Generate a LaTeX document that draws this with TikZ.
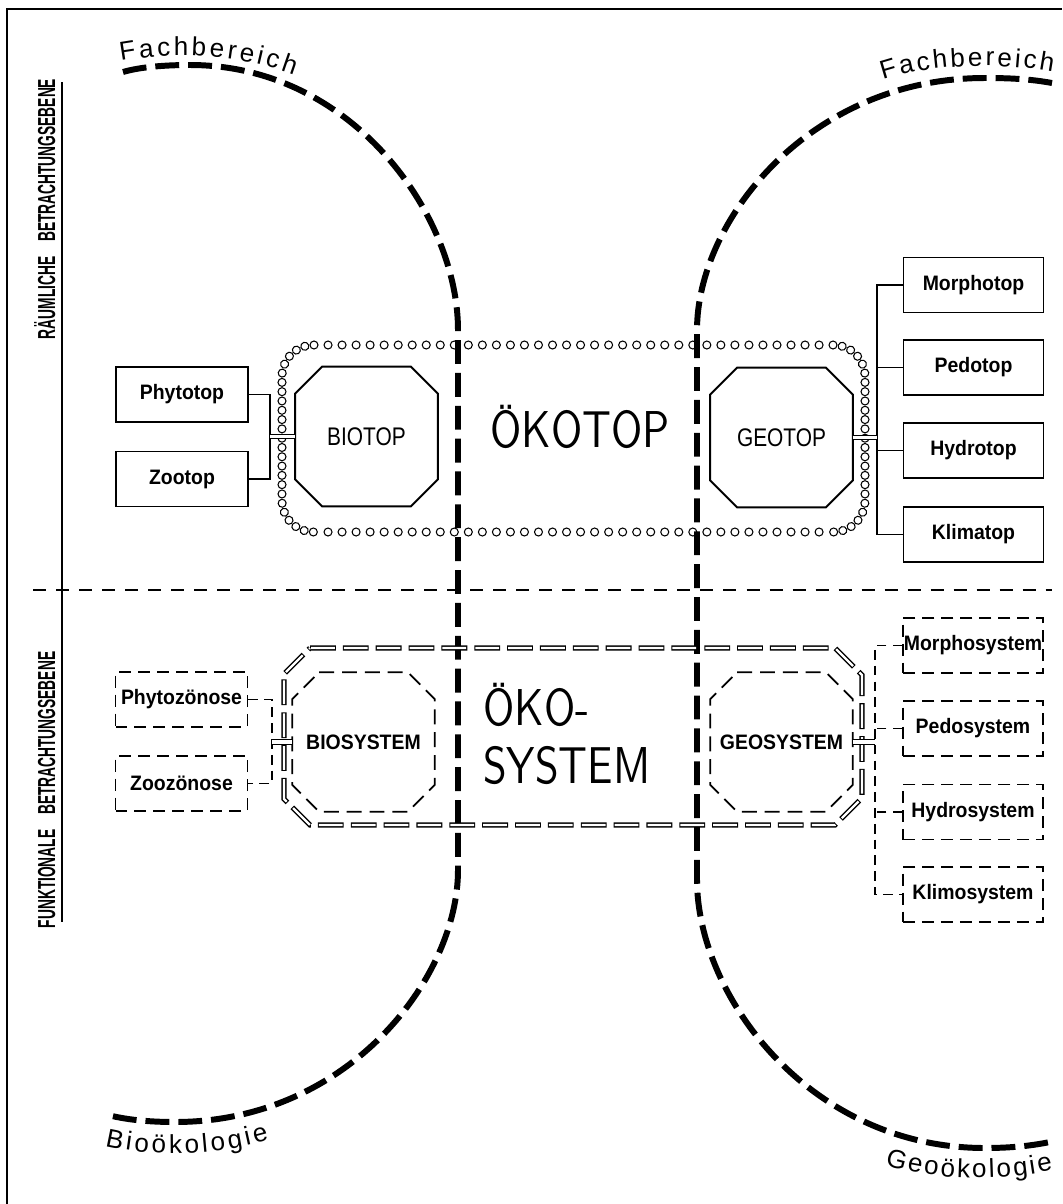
\documentclass[tikz,border=0pt]{standalone}
\usepackage{fontspec}
\setmainfont{Liberation Sans}
\newfontfamily\labfont{Liberation Sans}[FakeStretch=0.93]
\newfontfamily\octfont{Liberation Sans}[FakeStretch=0.82]
\newfontfamily\sidefont{Liberation Sans}[FakeStretch=0.56]
\newfontfamily\okofont{lmsans10-regular.otf}[FakeStretch=0.82]
\usetikzlibrary{decorations.text,decorations.markings}

\newcommand\octo[3][]{\draw[#1] ([xshift=#3]#2.north west) -- ([xshift=-#3]#2.north east) -- ([yshift=-#3]#2.north east) -- ([yshift=#3]#2.south east) -- ([xshift=-#3]#2.south east) -- ([xshift=#3]#2.south west) -- ([yshift=#3]#2.south west) -- ([yshift=-#3]#2.north west) -- cycle;}

\begin{document}
\begin{tikzpicture}[x=0.02cm,y=-0.02cm,
  heavy/.style={line width=3.4pt, dash pattern=on 13.6pt off 5.1pt},
  thinline/.style={line width=0.8pt},
  thindash/.style={line width=0.8pt, dash pattern=on 5.5pt off 3.5pt},
  sepline/.style={line width=0.7pt, dash pattern=on 7.4pt off 5.7pt},
  solidbox/.style={draw, line width=0.9pt, inner sep=0pt, font=\labfont\bfseries\fontsize{11.9}{14}\selectfont},
  lbox/.style={solidbox, minimum width=2.64cm, minimum height=1.1cm},
  rbox/.style={solidbox, minimum width=2.8cm, minimum height=1.1cm},
  boxdash/.style={dash pattern=on 6.8pt off 4pt},
  octnode/.style={inner sep=0pt, minimum width=2.84cm, minimum height=2.78cm},
  octtext/.style={font=\octfont\fontsize{14.5}{17}\selectfont},
  systext/.style={font=\labfont\bfseries\fontsize{11.9}{14}\selectfont},
  dbl/.style={double, double distance=2pt, line width=0.6pt},
  dotc/.style={line width=0.6pt},
  hollow/.style={line width=3pt, dash pattern=on 14.7pt off 4pt,
    postaction={draw=white, line width=1.3pt, dash pattern=on 13.5pt off 5.2pt, dash phase=18.1pt}},
  sidelabel/.style={rotate=90, anchor=base, font=\sidefont\bfseries\fontsize{14}{16}\selectfont},
  bigtext/.style={font=\okofont\fontsize{29.5}{32}\selectfont, inner sep=0pt},
  curvetext/.style={decorate, decoration={text along path, text={|\fontsize{14.8}{18}\selectfont|#1}, text align={fit to path}}}
]
\useasboundingbox (0,0) rectangle (1062,1204);

% frame
\draw[line width=0.8pt] (7,1204) -- (7,9) -- (1062,9);

% left rule and labels
\draw[line width=0.8pt] (62,82) -- (62,922);
\node[sidelabel] (raum) at (55,209) {RÄUMLICHE\hskip0.6em BETRACHTUNGSEBENE};
\node[sidelabel] (funk) at (55,790) {FUNKTIONALE\hskip0.6em BETRACHTUNGSEBENE};

% separation line
\draw[sepline] (33,590) -- (1052,590);

% heavy subject-area curves
\draw[heavy] (123,72) .. controls (140,67) and (165,65) .. (190,65)
  .. controls (353,65) and (458,216) .. (458,330) -- (458,870)
  .. controls (458,978) and (348,1122) .. (175,1122)
  .. controls (150,1122) and (130,1120) .. (112,1116);
\draw[heavy] (1052,83) .. controls (1030,79) and (1010,78) .. (985,78)
  .. controls (809,78) and (697,221) .. (697,330) -- (697,880)
  .. controls (697,995) and (809,1148) .. (985,1148)
  .. controls (1010,1148) and (1030,1146) .. (1050,1142);

% curved labels
\path[curvetext=Fachbereich] (121,61) .. controls (170,52) and (235,53) .. (294,75);
\path[curvetext=Fachbereich] (883,80) .. controls (930,64) and (1000,62) .. (1053,72);
\path[curvetext=Bioökologie] (105,1146) .. controls (150,1157) and (215,1156) .. (269,1140);
\path[curvetext=Geoökologie] (885,1165) .. controls (930,1180) and (1000,1182) .. (1053,1170);

% ===== upper level: Ökotop =====
\foreach \i in {1,...,36} {
  \draw[dotc] (314+\i*14.03,345) circle[radius=0.08cm];
  \draw[dotc] (314+\i*14.03,532) circle[radius=0.08cm];
}
\path[decorate, decoration={markings, mark=between positions 0 and 1 step 0.186cm with {\draw[dotc] (0,0) circle[radius=0.08cm];}}]
  (314,345) .. controls (296,345) and (282,359) .. (282,377) -- (282,500) .. controls (282,518) and (296,532) .. (314,532);
\path[decorate, decoration={markings, mark=between positions 0 and 1 step 0.186cm with {\draw[dotc] (0,0) circle[radius=0.08cm];}}]
  (833,345) .. controls (851,345) and (865,359) .. (865,377) -- (865,500) .. controls (865,518) and (851,532) .. (833,532);

\node[bigtext, anchor=base] (okotop) at (580,447) {ÖKOTOP};

\node[octnode, octtext] (biotop) at (366.5,436.5) {BIOTOP};
\octo[line width=1.1pt]{biotop}{0.54cm}
\node[octnode, octtext] (geotop) at (781.5,437.5) {GEOTOP};
\octo[line width=1.1pt]{geotop}{0.54cm}

\node[lbox] (phytotop) at (182,394.5) {Phytotop};
\node[lbox] (zootop) at (182,479) {Zootop};
\coordinate (lj) at (270,436.5);
\draw[thinline] (phytotop.east) -| (lj) |- (zootop.east);
\draw[dbl] (lj) -- (biotop.west);

\node[rbox] (morphotop) at (973.5,285) {Morphotop};
\node[rbox] (pedotop) at (973.5,367.5) {Pedotop};
\node[rbox] (hydrotop) at (973.5,450.5) {Hydrotop};
\node[rbox] (klimatop) at (973.5,534.5) {Klimatop};
\coordinate (rt) at (877,437.5);
\draw[thinline] (morphotop.west) -- (morphotop.west -| rt) -- (klimatop.west -| rt) -- (klimatop.west);
\draw[thinline] (pedotop.west) -- (pedotop.west -| rt);
\draw[thinline] (hydrotop.west) -- (hydrotop.west -| rt);
\draw[dbl] (geotop.east) -- (geotop.east -| rt);

% ===== lower level: Ökosystem =====
\draw[hollow] (310,648) -- (835,648) -- (862,675) -- (862,798) -- (835,825) -- (310,825) -- (284,799) -- (284,674) -- cycle;

\node[bigtext, anchor=base west] (oko1) at (483,725) {ÖKO-};
\node[bigtext, anchor=base west] (oko2) at (483,783) {SYSTEM};

\node[octnode, systext] (biosys) at (363.5,742) {BIOSYSTEM};
\octo[line width=1pt, dash pattern=on 8.5pt off 4.5pt]{biosys}{0.54cm}
\node[octnode, systext] (geosys) at (781.5,742) {GEOSYSTEM};
\octo[line width=1pt, dash pattern=on 8.5pt off 4.5pt]{geosys}{0.54cm}

\node[lbox, boxdash] (phytoz) at (181.5,699.5) {Phytozönose};
\node[lbox, boxdash] (zooz) at (181.5,783.5) {Zoozönose};
\coordinate (lj2) at (272,742);
\draw[thindash] (phytoz.east) -| (lj2) |- (zooz.east);
\draw[dbl] (lj2) -- (biosys.west);

\node[rbox, boxdash] (morphosys) at (973,645.5) {Morphosystem};
\node[rbox, boxdash] (pedosys) at (973,728.5) {Pedosystem};
\node[rbox, boxdash] (hydrosys) at (973,812) {Hydrosystem};
\node[rbox, boxdash] (klimosys) at (973,894.5) {Klimosystem};
\coordinate (rt2) at (875,742);
\draw[thindash] (morphosys.west) -- (morphosys.west -| rt2) -- (klimosys.west -| rt2) -- (klimosys.west);
\draw[thindash] (pedosys.west) -- (pedosys.west -| rt2);
\draw[thindash] (hydrosys.west) -- (hydrosys.west -| rt2);
\draw[dbl] (geosys.east) -- (geosys.east -| rt2);
\end{tikzpicture}
\end{document}
